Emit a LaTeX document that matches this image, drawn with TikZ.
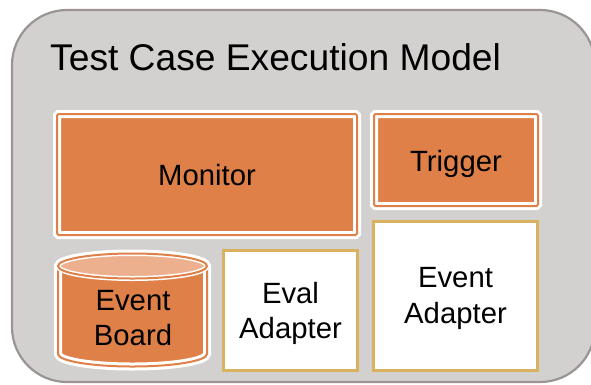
\documentclass[tikz,border=0pt]{standalone}
\usepackage{fontspec}
\setmainfont{Liberation Sans}
\definecolor{bgray}{HTML}{D3D1D0}
\definecolor{edgegray}{HTML}{9C9494}
\definecolor{orng}{HTML}{DE8048}
\definecolor{lorng}{HTML}{ECB08F}
\definecolor{gold}{HTML}{D9B260}
\begin{document}
\begin{tikzpicture}[x=1pt,y=-1pt,
  outerbox/.style={draw=edgegray, fill=bgray, line width=2.2pt, rounded corners=55pt},
  orangebox/.style={fill=orng, draw=white, line width=8pt, rounded corners=1.5pt,
     postaction={draw=orng, line width=2pt, rounded corners=0pt}, rectangle, inner sep=0pt},
  goldbox/.style={fill=white, draw=gold, line width=3pt, rectangle, inner sep=0pt},
  lbl/.style={inner sep=0pt, anchor=base, font=\fontsize{29.3}{35}\selectfont},
  ttl/.style={inner sep=0pt, anchor=base west, font=\fontsize{37.2}{44}\selectfont}]
\useasboundingbox (0,0) rectangle (591,384);
\draw[outerbox] (12,10) rectangle (595,382);
\node[ttl] (title) at (50,70) {Test Case Execution Model};
% boxes
\node[orangebox, minimum width=300pt, minimum height=121pt] (monitor) at (207,174.5) {};
\node[orangebox, minimum width=164pt, minimum height=92pt] (trigger) at (456,160) {};
\node[goldbox, minimum width=134pt, minimum height=120pt] (eval) at (290.5,310.5) {};
\node[goldbox, minimum width=164pt, minimum height=149pt] (evad) at (455.5,296) {};
% cylinder
\path[fill=orng, draw=white, line width=8pt,
      postaction={draw=orng, line width=2pt}]
  (58,266) -- (58,354) arc[start angle=180, end angle=360, x radius=74.5pt, y radius=12.5pt]
  -- (207,266) arc[start angle=0, end angle=180, x radius=74.5pt, y radius=12.5pt] -- cycle;
\path[fill=lorng, draw=white, line width=5pt,
      postaction={draw=orng, line width=2pt}]
  (132.5,266) ellipse [x radius=74.5pt, y radius=12.5pt];
% labels
\node[lbl] (tmon) at (207,185) {Monitor};
\node[lbl] (ttrig) at (456,171) {Trigger};
\node[lbl] (teval1) at (290.5,303) {Eval};
\node[lbl] (teval2) at (290.5,338) {Adapter};
\node[lbl] (tevad1) at (455.5,287) {Event};
\node[lbl] (tevad2) at (455.5,323) {Adapter};
\node[lbl] (tbrd1) at (133,310) {Event};
\node[lbl] (tbrd2) at (133,345) {Board};
\end{tikzpicture}
\end{document}
